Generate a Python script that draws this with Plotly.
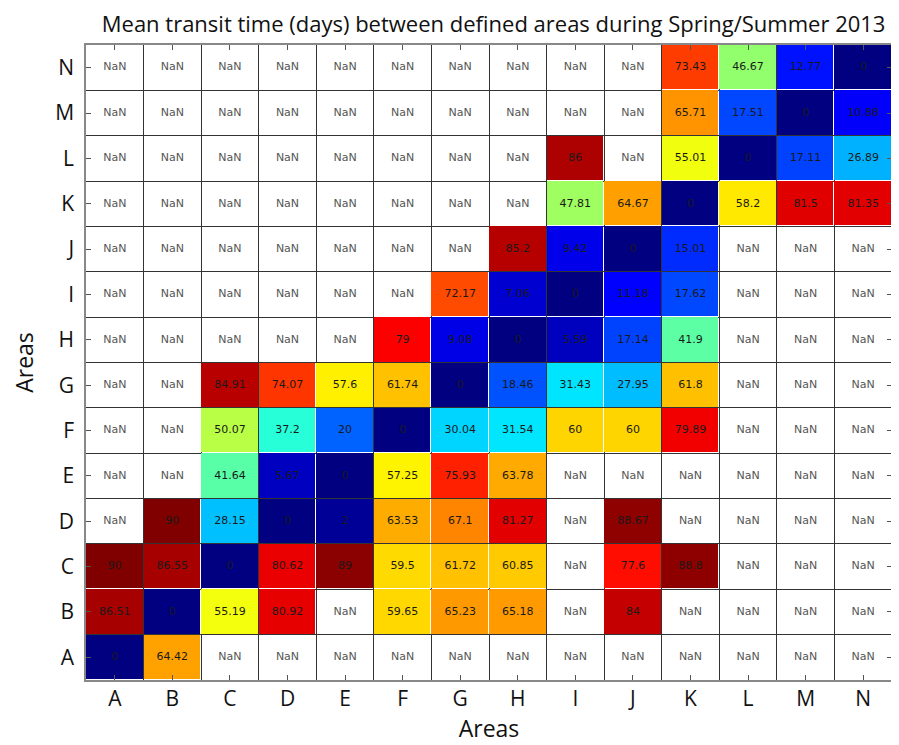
import plotly.graph_objects as go

areas = ["A", "B", "C", "D", "E", "F", "G", "H", "I", "J", "K", "L", "M", "N"]
N_ = None
# rows: origin areas A..N (bottom to top); columns: destination areas A..N
row_A = [0, 64.42, N_, N_, N_, N_, N_, N_, N_, N_, N_, N_, N_, N_]
row_B = [86.51, 0, 55.19, 80.92, N_, 59.65, 65.23, 65.18, N_, 84, N_, N_, N_, N_]
row_C = [90, 86.55, 0, 80.62, 89, 59.5, 61.72, 60.85, N_, 77.6, 88.8, N_, N_, N_]
row_D = [N_, 90, 28.15, 0, 2, 63.53, 67.1, 81.27, N_, 88.67, N_, N_, N_, N_]
row_E = [N_, N_, 41.64, 5.67, 0, 57.25, 75.93, 63.78, N_, N_, N_, N_, N_, N_]
row_F = [N_, N_, 50.07, 37.2, 20, 0, 30.04, 31.54, 60, 60, 79.89, N_, N_, N_]
row_G = [N_, N_, 84.91, 74.07, 57.6, 61.74, 0, 18.46, 31.43, 27.95, 61.8, N_, N_, N_]
row_H = [N_, N_, N_, N_, N_, 79, 9.08, 0, 5.59, 17.14, 41.9, N_, N_, N_]
row_I = [N_, N_, N_, N_, N_, N_, 72.17, 7.06, 0, 11.18, 17.62, N_, N_, N_]
row_J = [N_, N_, N_, N_, N_, N_, N_, 85.2, 9.42, 0, 15.01, N_, N_, N_]
row_K = [N_, N_, N_, N_, N_, N_, N_, N_, 47.81, 64.67, 0, 58.2, 81.5, 81.35]
row_L = [N_, N_, N_, N_, N_, N_, N_, N_, 86, N_, 55.01, 0, 17.11, 26.89]
row_M = [N_, N_, N_, N_, N_, N_, N_, N_, N_, N_, 65.71, 17.51, 0, 10.88]
row_N = [N_, N_, N_, N_, N_, N_, N_, N_, N_, N_, 73.43, 46.67, 12.77, 0]

z = [row_A, row_B, row_C, row_D, row_E, row_F, row_G, row_H,
     row_I, row_J, row_K, row_L, row_M, row_N]

# MATLAB-style jet colorscale
jet = [[0.0, "rgb(0,0,128)"], [0.125, "rgb(0,0,255)"], [0.375, "rgb(0,255,255)"],
       [0.625, "rgb(255,255,0)"], [0.875, "rgb(255,0,0)"], [1.0, "rgb(128,0,0)"]]

idx = list(range(len(areas)))
tx, ty, tt, tc = [], [], [], []
for r, row in enumerate(z):
    for c, v in enumerate(row):
        tx.append(c); ty.append(r)
        if v is None:
            tt.append("NaN"); tc.append("#555555")
        else:
            tt.append(("%g" % v)); tc.append("#1a1a1a")

fig = go.Figure()
fig.add_trace(go.Heatmap(z=z, x=idx, y=idx, colorscale=jet, zmin=0, zmax=90,
                         showscale=False, xgap=1, ygap=1, hoverongaps=False))
fig.add_trace(go.Scatter(x=tx, y=ty, mode="text", text=tt,
                         textfont=dict(family="DejaVu Sans", size=11, color=tc),
                         hoverinfo="skip", showlegend=False))

axis_common = dict(
    range=[-0.5, 13.5], tickvals=idx, ticktext=areas, automargin=False,
    ticks="inside", ticklen=5, tickcolor="#555555", tickwidth=1,
    showline=True, linecolor="#888888", linewidth=1.5, mirror="ticks",
    showgrid=False, zeroline=False,
    minor=dict(tick0=0.5, dtick=1, showgrid=True, gridcolor="#333333", gridwidth=1, ticks=""),
    tickfont=dict(family="Open Sans", size=21, color="#111111"),
    title_font=dict(family="Open Sans", size=23, color="#111111"),
)
fig.update_layout(
    width=891, height=737,
    margin=dict(l=78, r=7, t=37, b=65),
    paper_bgcolor="white", plot_bgcolor="white",
    title=dict(text="Mean transit time (days) between defined areas during Spring/Summer 2013",
               x=0.545, xanchor="center", y=0.9785, yanchor="middle",
               font=dict(family="Open Sans", size=22, color="#111111")),
    xaxis=dict(axis_common, title=dict(text="Areas", standoff=8), ticklabelstandoff=-1),
    yaxis=dict(axis_common, title=dict(text="Areas", standoff=26), ticklabelstandoff=6),
    showlegend=False,
)
fig.write_html("out.html")
